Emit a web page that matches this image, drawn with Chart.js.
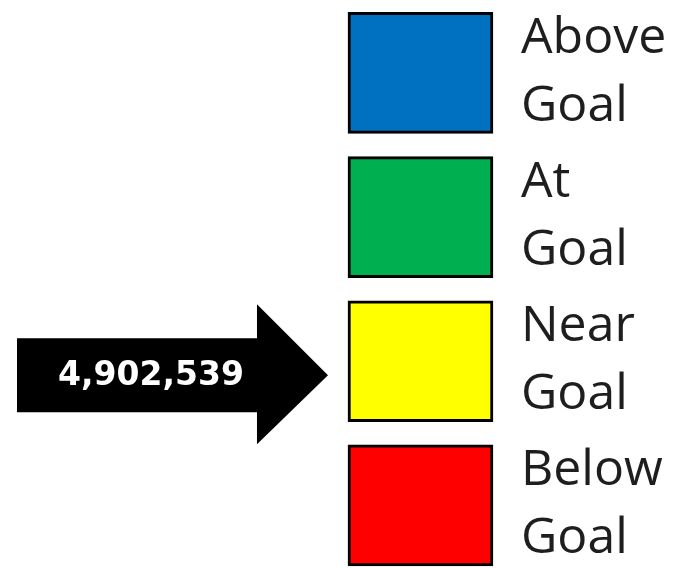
<!DOCTYPE html>
<html>
<head>
<meta charset="utf-8">
<script src="https://cdn.jsdelivr.net/npm/chart.js@4"></script>
<style>
html,body{margin:0;padding:0;background:#fff;overflow:hidden;}
#wrap{width:689px;height:568px;}
</style>
</head>
<body>
<div id="wrap"><canvas id="c" width="689" height="568"></canvas></div>
<script>
// Data
const categories = ["Above Goal", "At Goal", "Near Goal", "Below Goal"];
const labelLines = [["Above", "Goal"], ["At", "Goal"], ["Near", "Goal"], ["Below", "Goal"]];
const boxRanges = [[0, 1], [0, 1], [0, 1], [0, 1]];
const boxColors = ["#0070C0", "#00B050", "#FFFF00", "#FF0000"];
const currentValue = 4902539;
const currentStatus = "Near Goal";

const labelPlugin = {
  id: 'labelsAndArrow',
  afterDatasetsDraw(chart) {
    const ctx = chart.ctx;
    const xs = chart.scales.x, ys = chart.scales.y;
    const right = xs.getPixelForValue(1);
    const left = xs.getPixelForValue(0);
    ctx.save();
    ctx.fillStyle = '#1e1e1e';
    ctx.font = '50px "Open Sans", "Noto Sans", sans-serif';
    ctx.textAlign = 'left';
    ctx.textBaseline = 'alphabetic';
    categories.forEach((c, i) => {
      const cy = ys.getPixelForValue(i);
      ctx.fillText(labelLines[i][0], right + 28, cy - 20);
      ctx.fillText(labelLines[i][1], right + 28, cy + 48);
    });
    // arrow
    const idx = categories.indexOf(currentStatus);
    const ay = ys.getPixelForValue(idx) + 14;
    const tip = left - 20;
    const headBase = tip - 71;
    const tail = 17;
    ctx.fillStyle = '#000';
    ctx.beginPath();
    ctx.moveTo(tail, ay - 37);
    ctx.lineTo(headBase, ay - 37);
    ctx.lineTo(headBase, ay - 71);
    ctx.lineTo(tip, ay);
    ctx.lineTo(headBase, ay + 69);
    ctx.lineTo(headBase, ay + 37);
    ctx.lineTo(tail, ay + 37);
    ctx.closePath();
    ctx.fill();
    ctx.fillStyle = '#fff';
    ctx.font = 'bold 33px "DejaVu Sans", sans-serif';
    ctx.textAlign = 'center';
    ctx.textBaseline = 'middle';
    ctx.fillText(currentValue.toLocaleString('en-US'), 151, ay + 1);
    ctx.restore();
  }
};

new Chart(document.getElementById('c'), {
  type: 'bar',
  data: {
    datasets: [{
      data: boxRanges.map((r, i) => ({ x: r, y: i })),
      backgroundColor: boxColors,
      borderColor: '#000',
      borderWidth: 3,
      borderSkipped: false,
      barThickness: 121
    }]
  },
  options: {
    indexAxis: 'y',
    responsive: false,
    animation: false,
    layout: { padding: 0 },
    plugins: { legend: { display: false }, tooltip: { enabled: false } },
    scales: {
      x: { type: 'linear', min: -2.4, max: 2.352, display: false },
      y: { type: 'linear', reverse: true, min: -0.506, max: 3.434, display: false, offset: false }
    }
  },
  plugins: [labelPlugin]
});
</script>
</body>
</html>
